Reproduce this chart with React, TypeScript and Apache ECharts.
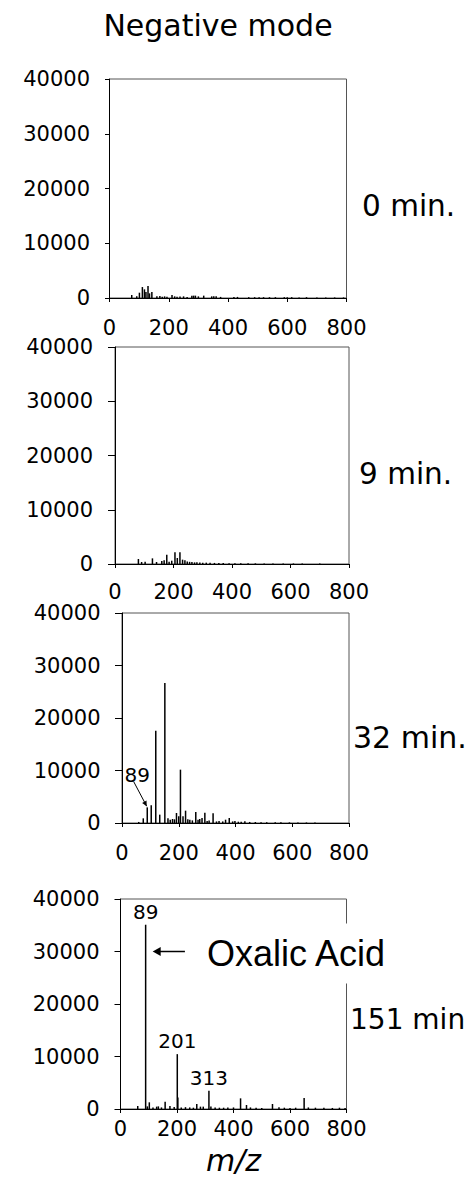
import React, { useEffect, useRef } from "react";
import * as echarts from "echarts";

// ---------- data ----------
const panelNames = ["0 min.", "9 min.", "32 min.", "151 min"];
const chartTitle = "Negative mode";
const xAxisName = "m/z";
const annotationText = "Oxalic Acid";

const xMin = 0;
const xMax = 800;
const xStep = 200;
const yMin = 0;
const yMax = 40000;
const yStep = 10000;

const mz0 = [75, 92, 101, 111, 118, 123, 130, 135, 143, 160, 170, 178, 186, 194, 211, 220, 228, 238, 250, 262, 278, 284, 290, 300, 318, 345, 352, 360, 375, 420, 432, 470, 490, 505, 520, 540, 560, 590, 600, 615, 640, 665, 700, 730, 760, 790];
const int0 = [550, 300, 970, 2000, 1580, 1100, 2190, 850, 1100, 300, 350, 250, 300, 250, 550, 300, 250, 280, 300, 200, 430, 430, 430, 300, 430, 300, 300, 300, 200, 200, 200, 150, 150, 150, 150, 150, 150, 150, 150, 150, 100, 150, 100, 100, 100, 100];

const mz9 = [80, 91, 103, 128, 142, 160, 168, 177, 185, 194, 205, 213, 222, 231, 239, 247, 255, 263, 272, 280, 290, 300, 312, 325, 340, 355, 370, 390, 410, 430, 455, 480, 510, 540, 575, 610, 640, 700];
const int9 = [920, 370, 430, 1040, 370, 550, 680, 1720, 400, 610, 2150, 1110, 2150, 800, 680, 450, 400, 350, 300, 300, 280, 250, 250, 220, 200, 180, 170, 160, 150, 150, 130, 120, 110, 100, 100, 100, 100, 100];

const mz32 = [59, 75, 89, 103, 119, 133, 151, 162, 170, 178, 185, 192, 200, 206, 215, 224, 232, 239, 248, 260, 268, 274, 282, 292, 300, 307, 321, 333, 342, 355, 365, 378, 390, 398, 410, 420, 433, 450, 470, 490, 510, 540, 560, 590, 620, 650, 680];
const int32 = [200, 890, 2980, 3370, 17590, 1590, 26670, 890, 600, 760, 700, 1900, 1300, 10160, 1270, 2350, 700, 630, 500, 2100, 600, 760, 950, 1970, 400, 500, 1840, 300, 380, 300, 630, 950, 300, 380, 250, 250, 320, 200, 200, 150, 150, 150, 120, 120, 100, 100, 100];

const mz151 = [61, 89, 95, 102, 115, 128, 134, 145, 158, 175, 190, 201, 203, 215, 230, 245, 258, 270, 283, 293, 313, 320, 335, 350, 365, 380, 400, 425, 446, 460, 480, 500, 538, 561, 580, 600, 620, 650, 665, 690, 720, 750, 775, 795];
const int151 = [570, 35100, 500, 1270, 300, 450, 500, 300, 1400, 570, 400, 10450, 2200, 300, 350, 300, 250, 950, 450, 450, 3500, 500, 300, 250, 250, 300, 300, 2030, 760, 300, 250, 200, 950, 320, 250, 200, 250, 2100, 300, 250, 250, 200, 250, 200];

const labeled32 = [89];
const labeled151 = [89, 201, 313];

// annotation anchors (data coordinates)
const arrow32From = [41, 7900];
const arrow32To = [87, 3200];
const oxalicArrowFrom = [228, 30000];
const oxalicArrowTo = [114, 30000];

const FONT = "DejaVu Sans";

export default function App() {
  const ref = useRef<HTMLDivElement>(null);

  useEffect(() => {
    const chart = echarts.init(ref.current!, null, { renderer: "svg" });

    const panels = [
      { mz: mz0, inten: int0, labels: [] as number[] },
      { mz: mz9, inten: int9, labels: [] as number[] },
      { mz: mz32, inten: int32, labels: labeled32 },
      { mz: mz151, inten: int151, labels: labeled151 },
    ];

    const grids = [
      { left: 109.5, top: 79, width: 237, height: 219 },
      { left: 115, top: 347, width: 234, height: 217 },
      { left: 122, top: 613, width: 227, height: 210 },
      { left: 120.5, top: 899, width: 226, height: 210 },
    ];
    const yTickLen = [4.5, 7, 7, 6];
    const yLabelMargin = [19.5, 22, 21.5, 21];
    const xLabelMargin = [19.5, 17, 19, 9.5];
    const nameX = [362, 359, 353, 350];
    const nameY = [206, 474, 737, 1019];
    const nameSize = [29.5, 29.5, 30, 28];

    const option: any = {
      animation: false,
      grid: grids.map((g) => ({
        ...g,
        show: true,
        borderColor: "#555",
        borderWidth: 1,
        backgroundColor: "transparent",
      })),
      xAxis: grids.map((_, i) => ({
        type: "value",
        gridIndex: i,
        min: xMin,
        max: xMax,
        interval: xStep,
        axisLine: { show: true, onZero: false, lineStyle: { color: "#000", width: 1 } },
        axisTick: { show: true, length: 4, lineStyle: { color: "#000" } },
        axisLabel: {
          fontSize: 21,
          fontFamily: FONT,
          color: "#000",
          margin: xLabelMargin[i],
          formatter: (v: number) => String(v),
        },
        splitLine: { show: false },
        ...(i === 3
          ? {
              name: xAxisName,
              nameLocation: "middle",
              nameGap: 36,
              nameTextStyle: { fontSize: 30, fontStyle: "italic", fontFamily: FONT, color: "#000" },
            }
          : {}),
      })),
      yAxis: grids.map((_, i) => ({
        type: "value",
        gridIndex: i,
        min: yMin,
        max: yMax,
        interval: yStep,
        axisLine: { show: true, onZero: false, lineStyle: { color: "#000", width: 1 } },
        axisTick: { show: true, length: yTickLen[i], lineStyle: { color: "#000" } },
        axisLabel: {
          fontSize: 21,
          fontFamily: FONT,
          color: "#000",
          margin: yLabelMargin[i],
          formatter: (v: number) => String(v),
        },
        splitLine: { show: false },
      })),
      series: panels.map((p, i) => ({
        type: "bar",
        xAxisIndex: i,
        yAxisIndex: i,
        barWidth: 1.5,
        itemStyle: { color: "#000" },
        data: p.mz.map((m, j) => {
          if (p.labels.includes(m)) {
            return {
              value: [m, p.inten[j]],
              label: {
                show: true,
                position: "top",
                distance: 3,
                formatter: String(m),
                fontSize: 20,
                fontFamily: FONT,
                color: "#000",
                ...(i === 2 ? { offset: [-10, -19] } : {}),
              },
            };
          }
          return [m, p.inten[j]];
        }),
      })),
    };

    chart.setOption(option);

    const px = (gi: number, v: number[]) => chart.convertToPixel({ gridIndex: gi } as any, v) as number[];

    const arrowHead = (from: number[], to: number[], len: number, half: number) => {
      const dx = to[0] - from[0];
      const dy = to[1] - from[1];
      const d = Math.sqrt(dx * dx + dy * dy) || 1;
      const ux = dx / d;
      const uy = dy / d;
      const bx = to[0] - ux * len;
      const by = to[1] - uy * len;
      return [
        [to[0], to[1]],
        [bx - uy * half, by + ux * half],
        [bx + uy * half, by - ux * half],
      ];
    };

    const a1 = px(2, arrow32From);
    const a2 = px(2, arrow32To);
    const o1 = px(3, oxalicArrowFrom);
    const o2 = px(3, oxalicArrowTo);

    const graphics: any[] = [
      {
        type: "text",
        x: 218,
        y: 25,
        style: {
          text: chartTitle,
          fontSize: 30,
          fontFamily: FONT,
          fill: "#000",
          align: "center",
          verticalAlign: "middle",
          textAlign: "center",
          textVerticalAlign: "middle",
        },
      },
      ...panelNames.map((n, i) => ({
        type: "text",
        x: nameX[i],
        y: nameY[i],
        style: {
          text: n,
          fontSize: nameSize[i],
          fontFamily: FONT,
          fill: "#000",
          align: "left",
          verticalAlign: "middle",
          textAlign: "left",
          textVerticalAlign: "middle",
        },
      })),
      {
        type: "line",
        shape: { x1: a1[0], y1: a1[1], x2: a2[0], y2: a2[1] },
        style: { stroke: "#000", lineWidth: 1 },
      },
      {
        type: "polygon",
        shape: { points: arrowHead(a1, a2, 5, 2.5) },
        style: { fill: "#000" },
      },
      {
        type: "text",
        x: o1[0] + 20,
        y: o1[1] + 2,
        z: 10,
        style: {
          text: annotationText,
          fontSize: 36,
          fontFamily: "Liberation Sans",
          fill: "#000",
          backgroundColor: "#fff",
          padding: [12, 4, 12, 2],
          align: "left",
          verticalAlign: "middle",
          textAlign: "left",
          textVerticalAlign: "middle",
        },
      },
      {
        type: "line",
        shape: { x1: o1[0], y1: o1[1], x2: o2[0] + 6, y2: o2[1] },
        style: { stroke: "#000", lineWidth: 1.5 },
      },
      {
        type: "polygon",
        shape: { points: arrowHead(o1, o2, 8, 4.5) },
        style: { fill: "#000" },
      },
    ];

    chart.setOption({ graphic: graphics });

    return () => {
      chart.dispose();
    };
  }, []);

  return (
    <div
      ref={ref}
      style={{ position: "absolute", left: 0, top: 0, width: 472, height: 1186, background: "#fff" }}
    />
  );
}
